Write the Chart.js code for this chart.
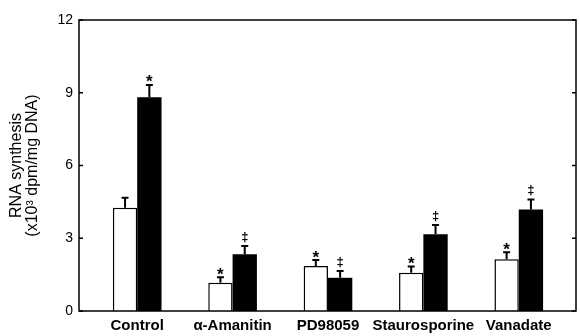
<!DOCTYPE html>
<html lang="en">
<head>
    <meta charset="UTF-8">
    <title>RNA synthesis</title>
    <script src="https://cdn.jsdelivr.net/npm/chart.js"></script>
    <style>
        html, body { margin: 0; padding: 0; background: #fff; }
        #wrap { width: 580px; height: 336px; }
    </style>
</head>
<body>
    <div id="wrap"><canvas id="rnaChart" width="580" height="336"></canvas></div>
    <script>
        const categories = ['Control', 'α-Amanitin', 'PD98059', 'Staurosporine', 'Vanadate'];
        const whiteValues = [4.26, 1.17, 1.86, 1.58, 2.13];
        const whiteErrors = [0.41, 0.22, 0.24, 0.26, 0.29];
        const blackValues = [8.81, 2.34, 1.37, 3.16, 4.19];
        const blackErrors = [0.51, 0.34, 0.28, 0.39, 0.41];
        const whiteMarks = ['', '*', '*', '*', '*'];
        const blackMarks = ['*', '‡', '‡', '‡', '‡'];
        const yTicks = [0, 3, 6, 9, 12];

        const FONT = "'Liberation Sans', Arial, sans-serif";

        // frame, inward ticks, error bars and significance marks
        const extras = {
            id: 'extras',
            afterDatasetsDraw(chart) {
                const ctx = chart.ctx;
                const area = chart.chartArea;
                const y = chart.scales.y;
                ctx.save();
                ctx.strokeStyle = '#000';
                ctx.lineWidth = 1.5;
                ctx.strokeRect(area.left, area.top, area.right - area.left, area.bottom - area.top);
                ctx.beginPath();
                yTicks.forEach(v => {
                    const py = y.getPixelForValue(v);
                    ctx.moveTo(area.left, py); ctx.lineTo(area.left + 4, py);
                    ctx.moveTo(area.right, py); ctx.lineTo(area.right - 4, py);
                });
                ctx.stroke();

                const sets = [
                    { values: whiteValues, errors: whiteErrors, marks: whiteMarks },
                    { values: blackValues, errors: blackErrors, marks: blackMarks }
                ];
                sets.forEach((s, di) => {
                    const meta = chart.getDatasetMeta(di);
                    meta.data.forEach((bar, i) => {
                        const top = y.getPixelForValue(s.values[i]);
                        const cap = y.getPixelForValue(s.values[i] + s.errors[i]);
                        ctx.lineWidth = 2;
                        ctx.beginPath();
                        ctx.moveTo(bar.x, top);
                        ctx.lineTo(bar.x, cap);
                        ctx.moveTo(bar.x - 3.5, cap);
                        ctx.lineTo(bar.x + 3.5, cap);
                        ctx.stroke();
                        const m = s.marks[i];
                        if (m) {
                            ctx.fillStyle = '#000';
                            ctx.textAlign = 'center';
                            ctx.textBaseline = 'alphabetic';
                            if (m === '*') {
                                ctx.font = 'bold 17px ' + FONT;
                                ctx.fillText(m, bar.x, cap + 2.5);
                            } else {
                                ctx.font = 'bold 13px ' + FONT;
                                ctx.fillText(m, bar.x, cap - 5);
                            }
                        }
                    });
                });
                ctx.restore();
            }
        };

        new Chart(document.getElementById('rnaChart'), {
            type: 'bar',
            data: {
                datasets: [{
                    data: whiteValues.map((v, i) => ({ x: i, y: v })),
                    backgroundColor: '#fff',
                    borderColor: '#000',
                    borderWidth: 1.5,
                    borderSkipped: 'bottom'
                }, {
                    data: blackValues.map((v, i) => ({ x: i, y: v })),
                    backgroundColor: '#000',
                    borderColor: '#000',
                    borderWidth: 0
                }]
            },
            options: {
                responsive: false,
                animation: false,
                categoryPercentage: 0.51,
                barPercentage: 1,
                layout: { padding: { top: 20, right: 4, left: 0, bottom: 0 } },
                plugins: { legend: { display: false }, tooltip: { enabled: false } },
                scales: {
                    x: {
                        type: 'linear',
                        offset: false,
                        min: -0.61,
                        max: 4.6,
                        grid: { display: false, drawTicks: false, offset: false },
                        border: { display: false },
                        afterBuildTicks(scale) {
                            scale.ticks = categories.map((c, i) => ({ value: i }));
                        },
                        afterFit(scale) { scale.height = 25; },
                        ticks: {
                            padding: 6,
                            color: '#000',
                            font: { family: FONT, size: 15, weight: 'bold' },
                            maxRotation: 0,
                            autoSkip: false,
                            callback: v => categories[v] || ''
                        }
                    },
                    y: {
                        min: 0,
                        max: 12,
                        grid: { display: false, drawTicks: false },
                        border: { display: false },
                        afterBuildTicks(scale) {
                            scale.ticks = yTicks.map(v => ({ value: v }));
                        },
                        afterFit(scale) { scale.width = 79; },
                        ticks: {
                            padding: 6,
                            color: '#000',
                            font: { family: FONT, size: 14 }
                        },
                        title: {
                            display: true,
                            text: ['RNA synthesis', '(x10³ dpm/mg DNA)'],
                            color: '#000',
                            font: { family: FONT, size: 16, lineHeight: 1 },
                            padding: { top: 9, bottom: 0 }
                        }
                    }
                }
            },
            plugins: [extras]
        });
    </script>
</body>
</html>
